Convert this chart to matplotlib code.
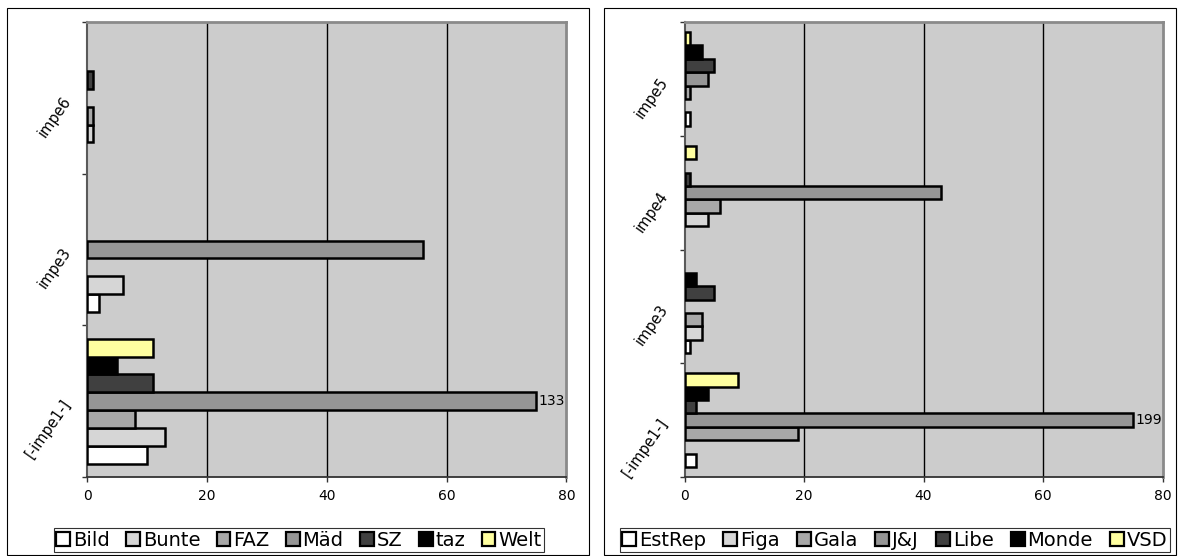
import matplotlib
matplotlib.use('Agg')
import matplotlib.pyplot as plt
from matplotlib.patches import Rectangle, Patch
import numpy as np

# ---------------- data ----------------
left_categories = ['[-impe1-]', 'impe3', 'impe6']
left_series = ['Bild', 'Bunte', 'FAZ', 'Mäd', 'SZ', 'taz', 'Welt']
bild = [10, 2, 0]
bunte = [13, 6, 1]
faz = [8, 0, 1]
maed = [133, 56, 0]
sz = [11, 0, 1]
taz = [5, 0, 0]
welt = [11, 0, 0]
left_values = [bild, bunte, faz, maed, sz, taz, welt]

right_categories = ['[-impe1-]', 'impe3', 'impe4', 'impe5']
right_series = ['EstRep', 'Figa', 'Gala', 'J&J', 'Libe', 'Monde', 'VSD']
estrep = [2, 1, 0, 1]
figa = [0, 3, 4, 0]
gala = [19, 3, 6, 1]
jj = [199, 0, 43, 4]
libe = [2, 5, 1, 5]
monde = [4, 2, 0, 3]
vsd = [9, 0, 2, 1]
right_values = [estrep, figa, gala, jj, libe, monde, vsd]

x_ticks = [0, 20, 40, 60, 80]

# ---------------- style ----------------
colors = ['#FFFFFF', '#D6D6D6', '#A8A8A8', '#969696', '#404040', '#000000', '#FFFFA0']
plot_bg = '#CCCCCC'
CAP = 75  # display cap used by the original chart for overflowing bars

W, H = 1179, 556
plt.rcParams['font.family'] = ['DejaVu Sans']
fig = plt.figure(figsize=(W / 100, H / 100), dpi=100)


def fx(px):
    return px / W


def fy(py):
    return 1 - py / H


def panel_box(x0, y0, x1, y1):
    fig.add_artist(Rectangle((fx(x0), fy(y1)), (x1 - x0) / W, (y1 - y0) / H,
                             transform=fig.transFigure, fill=False,
                             edgecolor='black', linewidth=0.8))


def draw(ax, cats, names, values):
    n = len(cats)
    ns = len(names)
    w = 1 / (ns + 1.5)
    base = np.arange(n)
    ax.set_facecolor(plot_bg)
    for t in x_ticks[1:-1]:
        ax.axvline(t, color='black', linewidth=1.0, zorder=1)
    for j, (name, vals) in enumerate(zip(names, values)):
        v = np.asarray(vals, dtype=float)
        y = base + (j - (ns - 1) / 2) * w
        m = v > 0
        ax.barh(y[m], np.minimum(v[m], CAP), height=w, color=colors[j],
                edgecolor='black', linewidth=1.8, zorder=3)
        for yy, vv in zip(y, v):
            if vv > CAP:
                ax.text(CAP + 0.4, yy, f'{int(vv)}', va='center', ha='left',
                        fontsize=10, zorder=4)
    ax.set_xlim(x_ticks[0], x_ticks[-1])
    ax.set_ylim(-0.5, n - 0.5)
    ax.set_xticks(x_ticks)
    ax.set_xticklabels([str(t) for t in x_ticks], fontsize=10)
    ax.tick_params(axis='x', length=3.6, width=1, pad=5, color='#333333')
    ax.set_yticks(base)
    ax.set_yticklabels(cats, fontsize=10.5, rotation=55, ha='right', va='center',
                       rotation_mode='anchor')
    ax.tick_params(axis='y', which='major', length=0, pad=14)
    ax.set_yticks(np.arange(n + 1) - 0.5, minor=True)
    ax.tick_params(axis='y', which='minor', length=3.6, width=1, color='#333333')
    for s in ['top', 'right']:
        ax.spines[s].set_color('#8A8A8A')
        ax.spines[s].set_linewidth(2)
    ax.spines['left'].set_color('#5A5A5A')
    ax.spines['left'].set_linewidth(1.5)
    ax.spines['bottom'].set_color('#333333')
    ax.spines['bottom'].set_linewidth(1.3)


def legend(names, cx, cy, colspace):
    handles = [Patch(facecolor=colors[j], edgecolor='black', linewidth=1.6)
               for j in range(len(names))]
    leg = fig.legend(handles, names, loc='center', bbox_to_anchor=(fx(cx), fy(cy)),
                     ncol=len(names), fontsize=14, frameon=True, fancybox=False,
                     edgecolor='black', handlelength=0.7, handleheight=0.7,
                     handletextpad=0.15, columnspacing=colspace, borderpad=0.12,
                     borderaxespad=0)
    leg.get_frame().set_linewidth(0.8)


panel_box(7.5, 8, 588.5, 555)
panel_box(604, 8, 1175.5, 555)

ax1 = fig.add_axes([fx(87.4), fy(477), (566.4 - 87.4) / W, (477 - 22) / H])
draw(ax1, left_categories, left_series, left_values)
ax2 = fig.add_axes([fx(684.5), fy(477), (1162.5 - 684.5) / W, (477 - 22) / H])
draw(ax2, right_categories, right_series, right_values)

legend(left_series, 299, 540, 0.85)
legend(right_series, 895, 540, 0.9)

fig.savefig('out.png', dpi=100)
